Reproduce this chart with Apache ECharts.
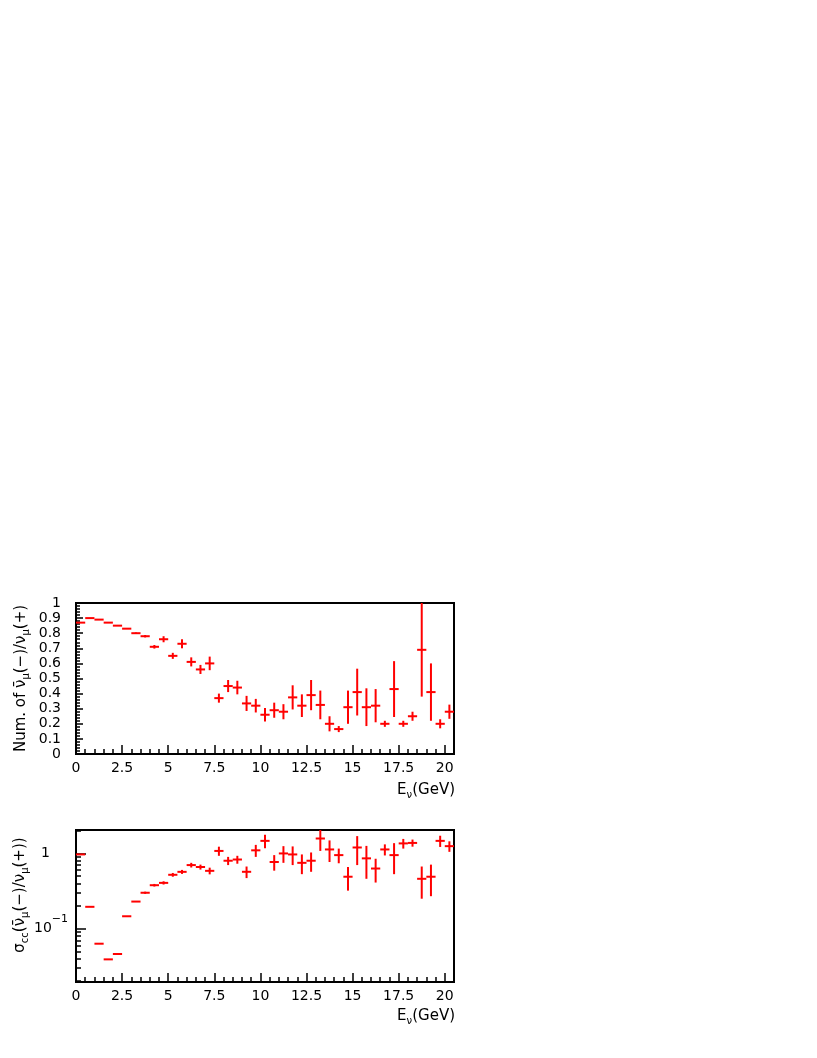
<!DOCTYPE html>
<html>
<head>
<meta charset="utf-8">
<script src="https://cdn.jsdelivr.net/npm/echarts@6/dist/echarts.min.js"></script>
<style>
html, body { margin: 0; padding: 0; background: #fff; }
#chart { width: 817px; height: 1058px; }
</style>
</head>
<body>
<div id="chart"></div>
<script>
// bin centres in GeV (bins are 0.5 GeV wide)
var binCenters = [0.25, 0.75, 1.25, 1.75, 2.25, 2.75, 3.25, 3.75, 4.25, 4.75,
    5.25, 5.75, 6.25, 6.75, 7.25, 7.75, 8.25, 8.75, 9.25, 9.75,
    10.25, 10.75, 11.25, 11.75, 12.25, 12.75, 13.25, 13.75, 14.25, 14.75,
    15.25, 15.75, 16.25, 16.75, 17.25, 17.75, 18.25, 18.75, 19.25, 19.75, 20.25];
var binHalfWidth = 0.25;

// number ratio antinu(-)/nu(+)
var numRatio = [0.87, 0.90, 0.89, 0.87, 0.85, 0.83, 0.80, 0.78, 0.71, 0.76,
    0.65, 0.73, 0.61, 0.56, 0.60, 0.37, 0.45, 0.44, 0.335, 0.32,
    0.26, 0.29, 0.28, 0.375, 0.32, 0.39, 0.325, 0.20, 0.165, 0.31,
    0.41, 0.31, 0.32, 0.20, 0.43, 0.20, 0.25, 0.69, 0.41, 0.20, 0.28];
var numRatioErr = [0, 0, 0, 0, 0, 0, 0.005, 0.008, 0.012, 0.02,
    0.02, 0.03, 0.03, 0.03, 0.045, 0.03, 0.04, 0.045, 0.05, 0.045,
    0.045, 0.05, 0.05, 0.08, 0.075, 0.1, 0.095, 0.05, 0.02, 0.11,
    0.155, 0.125, 0.11, 0.02, 0.185, 0.02, 0.03, 0.31, 0.19, 0.03, 0.047];

// cross section ratio sigma_cc(antinu(-)/nu(+))
var xsecRatio = [0.97, 0.195, 0.063, 0.039, 0.046, 0.146, 0.229, 0.30, 0.378, 0.406,
    0.52, 0.569, 0.70, 0.66, 0.587, 1.08, 0.80, 0.83, 0.57, 1.1,
    1.47, 0.77, 1.0, 0.97, 0.75, 0.80, 1.58, 1.13, 0.95, 0.49,
    1.2, 0.86, 0.63, 1.13, 0.95, 1.36, 1.38, 0.46, 0.49, 1.47, 1.25];
var xsecRatioErr = [0, 0, 0, 0, 0, 0, 0, 0.01, 0.015, 0.02,
    0.03, 0.035, 0.05, 0.05, 0.06, 0.15, 0.1, 0.1, 0.1, 0.2,
    0.3, 0.18, 0.25, 0.27, 0.22, 0.23, 0.5, 0.36, 0.21, 0.17,
    0.5, 0.4, 0.22, 0.19, 0.42, 0.2, 0.15, 0.21, 0.22, 0.25, 0.2];

// tick labels
var xTickValues = [0, 2.5, 5, 7.5, 10, 12.5, 15, 17.5, 20];
var logMajorTicks = [0.1, 1];
var logMinorTicks = [0.02, 0.03, 0.04, 0.05, 0.06, 0.07, 0.08, 0.09,
    0.2, 0.3, 0.4, 0.5, 0.6, 0.7, 0.8, 0.9, 2];

var FONT = 'DejaVu Sans';
var RED = '#ff0000';

function buildData(vals, errs) {
    var d = [];
    for (var i = 0; i < binCenters.length; i++) {
        d.push([binCenters[i], vals[i], errs[i]]);
    }
    return d;
}

// draws one bin: horizontal bar over the bin width + vertical error bar
function renderErrorBar(params, api) {
    var x = api.value(0), y = api.value(1), e = api.value(2);
    var l = api.coord([x - binHalfWidth, y]);
    var r = api.coord([x + binHalfWidth, y]);
    var style = {stroke: RED, lineWidth: 2};
    var children = [{
        type: 'line',
        shape: {x1: l[0], y1: l[1], x2: r[0], y2: r[1]},
        style: style
    }];
    if (e > 0) {
        var t = api.coord([x, y + e]);
        var b = api.coord([x, Math.max(y - e, 1e-4)]);
        children.push({
            type: 'line',
            shape: {x1: t[0], y1: t[1], x2: b[0], y2: b[1]},
            style: style
        });
    }
    return {type: 'group', children: children};
}

function makeXAxis(gridIndex) {
    return {
        type: 'value',
        gridIndex: gridIndex,
        min: 0,
        max: 20.5,
        interval: 2.5,
        axisLine: {show: true, lineStyle: {color: '#000', width: 2}},
        axisTick: {inside: true, length: 9, customValues: xTickValues, lineStyle: {color: '#000', width: 1.5}},
        minorTick: {show: true, splitNumber: 5, length: 5, lineStyle: {color: '#000', width: 1.5}},
        axisLabel: {margin: 7, color: '#000', fontSize: 14, fontFamily: FONT, customValues: xTickValues},
        splitLine: {show: false}
    };
}

var nameStyle = {
    fontSize: 15,
    fontFamily: FONT,
    color: '#000',
    lineHeight: 20,
    rich: {
        sub: {fontSize: 10, fontFamily: FONT, color: '#000', lineHeight: 10, verticalAlign: 'bottom'}
    }
};

var myChart = echarts.init(document.getElementById('chart'));
var option = {
    animation: false,
    backgroundColor: '#fff',
    title: [{
        text: 'E{sub|\u03bd}(GeV)',
        right: 362,
        top: 780,
        padding: 0,
        textStyle: {fontSize: 15, fontWeight: 'normal', fontFamily: FONT, color: '#000', lineHeight: 20,
            rich: {sub: {fontSize: 10, fontFamily: FONT, color: '#000', lineHeight: 10, verticalAlign: 'bottom'}}}
    }, {
        text: 'E{sub|\u03bd}(GeV)',
        right: 362,
        top: 1006,
        padding: 0,
        textStyle: {fontSize: 15, fontWeight: 'normal', fontFamily: FONT, color: '#000', lineHeight: 20,
            rich: {sub: {fontSize: 10, fontFamily: FONT, color: '#000', lineHeight: 10, verticalAlign: 'bottom'}}}
    }],
    grid: [
        {left: 76, top: 603, width: 378, height: 151, outerBoundsMode: 'none', show: true, borderColor: '#000', borderWidth: 2, backgroundColor: 'transparent'},
        {left: 76, top: 830, width: 378, height: 152, outerBoundsMode: 'none', show: true, borderColor: '#000', borderWidth: 2, backgroundColor: 'transparent'}
    ],
    xAxis: [makeXAxis(0), makeXAxis(1)],
    yAxis: [{
        type: 'value',
        gridIndex: 0,
        min: 0,
        max: 1,
        interval: 0.1,
        name: 'Num. of \u03bd\u0304{sub|\u03bc}(\u2212)/\u03bd{sub|\u03bc}(+)',
        nameLocation: 'middle',
        nameRotate: 90,
        nameGap: 45,
        nameMoveOverlap: false,
        nameTextStyle: nameStyle,
        axisLine: {show: true, lineStyle: {color: '#000', width: 2}},
        axisTick: {inside: true, length: 7, lineStyle: {color: '#000', width: 1.5}},
        minorTick: {show: true, splitNumber: 5, length: 4, lineStyle: {color: '#000', width: 1.5}},
        axisLabel: {margin: 15, color: '#000', fontSize: 14, fontFamily: FONT},
        splitLine: {show: false}
    }, {
        type: 'log',
        gridIndex: 1,
        min: 0.0195,
        max: 2.05,
        logBase: 10,
        name: '\u03c3{sub|cc}(\u03bd\u0304{sub|\u03bc}(\u2212)/\u03bd{sub|\u03bc}(+))',
        nameLocation: 'middle',
        nameRotate: 90,
        nameGap: 46,
        nameMoveOverlap: false,
        nameTextStyle: Object.assign({}, nameStyle, {padding: [0, 0, 0, 22]}),
        axisLine: {show: true, lineStyle: {color: '#000', width: 2}},
        axisTick: {inside: true, length: 10, customValues: logMajorTicks, lineStyle: {color: '#000', width: 1.5}},
        axisLabel: {
            margin: 8,
            color: '#000',
            fontSize: 14,
            fontFamily: FONT,
            customValues: logMajorTicks,
            formatter: function (v) {
                return v > 0.5 ? '{one|1}' : '{base|10}{sup|\u22121}';
            },
            rich: {
                one: {fontSize: 14, fontFamily: FONT, color: '#000', padding: [0, 18, 0, 0]},
                base: {fontSize: 14, fontFamily: FONT, color: '#000', lineHeight: 30},
                sup: {fontSize: 11, fontFamily: FONT, color: '#000', lineHeight: 12, verticalAlign: 'top'}
            }
        },
        splitLine: {show: false}
    }, {
        // minor ticks of the log axis
        type: 'log',
        gridIndex: 1,
        position: 'left',
        offset: 0,
        min: 0.0195,
        max: 2.05,
        logBase: 10,
        axisLine: {show: false},
        axisTick: {inside: true, length: 5, customValues: logMinorTicks, lineStyle: {color: '#000', width: 1.5}},
        axisLabel: {show: false},
        splitLine: {show: false}
    }],
    series: [{
        type: 'custom',
        xAxisIndex: 0,
        yAxisIndex: 0,
        clip: true,
        renderItem: renderErrorBar,
        encode: {x: 0, y: 1},
        data: buildData(numRatio, numRatioErr)
    }, {
        type: 'custom',
        xAxisIndex: 1,
        yAxisIndex: 1,
        clip: true,
        renderItem: renderErrorBar,
        encode: {x: 0, y: 1},
        data: buildData(xsecRatio, xsecRatioErr)
    }]
};
myChart.setOption(option);
</script>
</body>
</html>
